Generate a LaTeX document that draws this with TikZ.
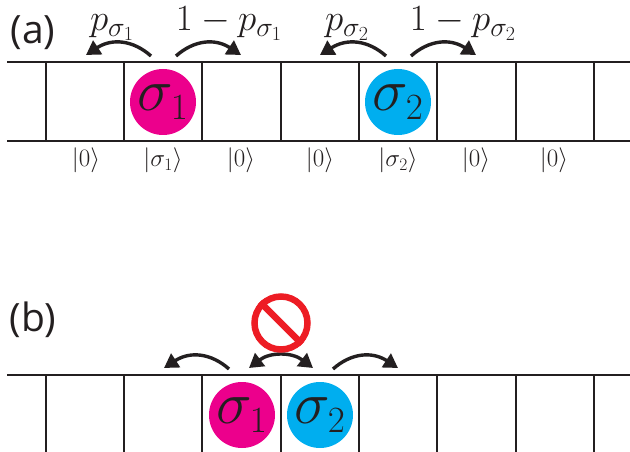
\RequirePackage{fix-cm}
\documentclass[tikz,border=0pt]{standalone}
\usepackage{fontspec}
\setsansfont{Open Sans}
\usetikzlibrary{arrows.meta}
\definecolor{mag}{RGB}{236,0,140}
\definecolor{cy}{RGB}{0,174,239}
\definecolor{ink}{RGB}{35,31,32}
\definecolor{nored}{RGB}{237,28,36}
\DeclareMathSizes{60}{60}{37}{28}
\DeclareMathSizes{37}{37}{28}{20}
\DeclareMathSizes{25}{25}{17.5}{12.5}
\tikzset{
  lat/.style={draw=ink,line width=2.2pt},
  ball/.style={circle,minimum size=66pt,inner sep=0pt,text=ink,font=\fontsize{60}{60}\selectfont},
  hop/.style={draw=ink,line width=3.4pt,-{Triangle[length=14pt,width=16pt]}},
  dhop/.style={draw=ink,line width=3.4pt,{Triangle[length=14pt,width=16pt]}-{Triangle[length=14pt,width=16pt]}},
  ket/.style={text=ink,font=\fontsize{25}{25}\selectfont,inner sep=0pt},
  prob/.style={text=ink,font=\fontsize{37}{37}\selectfont,inner sep=0pt,anchor=base},
  panel/.style={text=ink,font=\sffamily\fontsize{39}{39}\selectfont,inner sep=0pt}
}
\begin{document}
\begin{tikzpicture}[x=1pt,y=-1pt]
\useasboundingbox (0,0) rectangle (630,452);
\clip (0,0) rectangle (630,452);
% panel a lattice
\coordinate (aTL) at (7,62); \coordinate (aTR) at (630,62);
\coordinate (aBL) at (7,141); \coordinate (aBR) at (630,141);
\draw[lat] (aTL) -- (aTR);
\draw[lat] (aBL) -- (aBR);
\foreach \x in {46,124,202,281,359,437,516,594}{
  \coordinate (at\x) at (\x,62); \coordinate (ab\x) at (\x,141);
  \draw[lat] (at\x) -- (ab\x);
}
\node[ball,fill=mag] (s1a) at (163,102) {$\sigma_1$};
\node[ball,fill=cy] (s2a) at (398,102) {$\sigma_2$};
% panel a arrows
\coordinate (a1s) at (151,56); \coordinate (a1e) at (86,55);
\coordinate (a2s) at (176,56); \coordinate (a2e) at (241,55);
\coordinate (a3s) at (386,56); \coordinate (a3e) at (320,55);
\coordinate (a4s) at (411,56); \coordinate (a4e) at (476,55);
\draw[hop] (a1s) .. controls (133,40) and (112,38) .. (a1e);
\draw[hop] (a2s) .. controls (194,40) and (215,38) .. (a2e);
\draw[hop] (a3s) .. controls (368,40) and (347,38) .. (a3e);
\draw[hop] (a4s) .. controls (429,40) and (450,38) .. (a4e);
% labels a
\node[panel] (la) at (33,33) {(a)};
\node[prob] (p1) at (112,31) {$p_{\sigma_1}$};
\node[prob] (q1) at (229,31) {$1-p_{\sigma_1}$};
\node[prob] (p2) at (347,31) {$p_{\sigma_2}$};
\node[prob] (q2) at (463,31) {$1-p_{\sigma_2}$};
\node[ket] (k1) at (86,160) {$|0\rangle$};
\node[ket] (k2) at (163,160) {$|\sigma_1\rangle$};
\node[ket] (k3) at (241,160) {$|0\rangle$};
\node[ket] (k4) at (320,160) {$|0\rangle$};
\node[ket] (k5) at (398,160) {$|\sigma_2\rangle$};
\node[ket] (k6) at (476,160) {$|0\rangle$};
\node[ket] (k7) at (554,160) {$|0\rangle$};
% panel b
\coordinate (bTL) at (7,375); \coordinate (bTR) at (630,375);
\draw[lat] (bTL) -- (bTR);
\foreach \x in {46,124,202,281,359,437,516,594}{
  \coordinate (bt\x) at (\x,375); \coordinate (bb\x) at (\x,452);
  \draw[lat] (bt\x) -- (bb\x);
}
\node[ball,fill=mag] (s1b) at (242,415) {$\sigma_1$};
\node[ball,fill=cy] (s2b) at (320,415) {$\sigma_2$};
\coordinate (b1s) at (229,369); \coordinate (b1e) at (164,368);
\coordinate (b2s) at (249,368); \coordinate (b2e) at (313,368);
\coordinate (b3s) at (333,369); \coordinate (b3e) at (398,368);
\draw[hop] (b1s) .. controls (211,353) and (190,351) .. (b1e);
\draw[dhop] (b2s) .. controls (270,352) and (292,352) .. (b2e);
\draw[hop] (b3s) .. controls (351,353) and (372,351) .. (b3e);
\node[panel] (lb) at (33,320) {(b)};
% prohibition sign
\node[circle,draw=nored,line width=6.5pt,minimum size=53pt,inner sep=0pt] (no) at (281,323) {};
\draw[draw=nored,line width=6.5pt] (no.135) -- (no.-45);
\end{tikzpicture}
\end{document}
